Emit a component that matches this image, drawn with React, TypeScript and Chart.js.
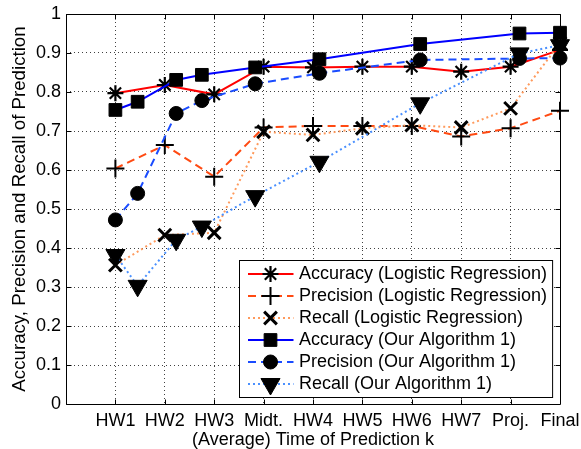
import React, { useEffect, useRef } from 'react';
import { Chart, registerables } from 'chart.js';
import { drawPoint } from 'chart.js/helpers';

Chart.register(...registerables);

// ---- data ----
const categories = ['HW1', 'HW2', 'HW3', 'Midt.', 'HW4', 'HW5', 'HW6', 'HW7', 'Proj.', 'Final'];
const lrTimes = [1, 2, 3, 4, 5, 6, 7, 8, 9, 10];
const lrAccuracy = [0.797, 0.818, 0.794, 0.865, 0.863, 0.865, 0.865, 0.852, 0.865, 0.908];
const lrPrecision = [0.604, 0.664, 0.583, 0.709, 0.713, 0.713, 0.713, 0.686, 0.707, 0.752];
const lrRecall = [0.356, 0.433, 0.439, 0.698, 0.69, 0.707, 0.715, 0.709, 0.758, 0.925];
const ourTimes = [1, 1.45, 2.23, 2.75, 3.83, 5.13, 7.17, 9.18, 10];
const ourAccuracy = [0.754, 0.775, 0.831, 0.844, 0.863, 0.884, 0.923, 0.95, 0.952];
const ourPrecision = [0.472, 0.54, 0.745, 0.778, 0.821, 0.848, 0.882, 0.886, 0.887];
const ourRecall = [0.382, 0.303, 0.421, 0.455, 0.533, 0.621, 0.771, 0.899, 0.92];
const seriesLabels = [
  'Accuracy (Logistic Regression)',
  'Precision (Logistic Regression)',
  'Recall (Logistic Regression)',
  'Accuracy (Our Algorithm 1)',
  'Precision (Our Algorithm 1)',
  'Recall (Our Algorithm 1)',
];
const yMin = 0;
const yMax = 1;
const yStep = 0.1;
const xMin = 0;
const xMax = 10;

const FONT = "'Liberation Sans', Arial, Helvetica, sans-serif";

type Style = {
  color: string;
  dash: number[];
  width: number;
  pointStyle: string;
  radius: number;
  pbw: number;
  rotation: number;
};

const styles: Style[] = [
  { color: '#ff0000', dash: [], width: 2, pointStyle: 'star', radius: 8, pbw: 2.2, rotation: 0 },
  { color: '#ff4a12', dash: [8, 5], width: 2, pointStyle: 'cross', radius: 9, pbw: 2, rotation: 0 },
  { color: '#ff9a5c', dash: [2, 3], width: 2, pointStyle: 'crossRot', radius: 9, pbw: 3, rotation: 0 },
  { color: '#0000ff', dash: [], width: 2, pointStyle: 'rect', radius: 9, pbw: 1, rotation: 0 },
  { color: '#1a4cff', dash: [8, 5], width: 2, pointStyle: 'circle', radius: 7, pbw: 1, rotation: 0 },
  { color: '#4a90ff', dash: [2, 3], width: 2, pointStyle: 'triangle', radius: 11, pbw: 1, rotation: 180 },
];

function makeDataset(i: number, xs: number[], ys: number[]) {
  const s = styles[i];
  return {
    label: seriesLabels[i],
    data: xs.map((x, k) => ({ x, y: ys[k] })),
    borderColor: s.color,
    backgroundColor: s.color,
    borderWidth: s.width,
    borderDash: s.dash,
    pointStyle: s.pointStyle,
    pointRadius: s.radius,
    pointHoverRadius: s.radius,
    pointBackgroundColor: '#000',
    pointBorderColor: '#000',
    pointBorderWidth: s.pbw,
    pointRotation: s.rotation,
    fill: false,
    tension: 0,
    clip: false,
    order: 10 - i,
  };
}

const boxPlugin = {
  id: 'matlabBox',
  beforeDatasetsDraw(chart: any) {
    const { ctx, chartArea } = chart;
    const xs = chart.scales.x;
    const ys = chart.scales.y;
    const L = Math.round(chartArea.left) + 0.5;
    const R = Math.round(chartArea.right) + 0.5;
    const T = Math.round(chartArea.top) + 0.5;
    const B = Math.round(chartArea.bottom) + 0.5;
    ctx.save();
    ctx.setLineDash([]);
    ctx.strokeStyle = '#000';
    ctx.lineWidth = 1;
    ctx.beginPath();
    ctx.rect(L, T, R - L, B - T);
    const tl = 5;
    for (let v = xMin + 1; v < xMax; v++) {
      const px = Math.round(xs.getPixelForValue(v)) + 0.5;
      ctx.moveTo(px, B);
      ctx.lineTo(px, B - tl);
      ctx.moveTo(px, T);
      ctx.lineTo(px, T + tl);
    }
    for (let k = 1; k < Math.round((yMax - yMin) / yStep); k++) {
      const py = Math.round(ys.getPixelForValue(yMin + k * yStep)) + 0.5;
      ctx.moveTo(L, py);
      ctx.lineTo(L + tl, py);
      ctx.moveTo(R, py);
      ctx.lineTo(R - tl, py);
    }
    ctx.stroke();
    ctx.restore();
  },
};

const legendPlugin = {
  id: 'matlabLegend',
  afterDraw(chart: any) {
    const { ctx, chartArea } = chart;
    ctx.save();
    ctx.font = `18px ${FONT}`;
    let maxW = 0;
    seriesLabels.forEach((t) => {
      maxW = Math.max(maxW, ctx.measureText(t).width);
    });
    const rowH = 22;
    const w = 60 + maxW + 5;
    const h = seriesLabels.length * rowH + 5;
    const x0 = Math.round(chartArea.right - 8 - w) + 0.5;
    const y0 = Math.round(chartArea.bottom - 7 - h) + 0.5;
    ctx.fillStyle = '#fff';
    ctx.fillRect(x0, y0, w, h);
    ctx.strokeStyle = '#000';
    ctx.lineWidth = 1;
    ctx.setLineDash([]);
    ctx.strokeRect(x0, y0, w, h);
    seriesLabels.forEach((t, i) => {
      const s = styles[i];
      const cy = y0 + 2.5 + rowH / 2 + i * rowH;
      ctx.save();
      ctx.strokeStyle = s.color;
      ctx.lineWidth = s.width;
      ctx.setLineDash(s.dash);
      ctx.beginPath();
      ctx.moveTo(x0 + 8.5, cy);
      ctx.lineTo(x0 + 54, cy);
      ctx.stroke();
      ctx.setLineDash([]);
      ctx.fillStyle = '#000';
      ctx.strokeStyle = '#000';
      ctx.lineWidth = s.pbw;
      drawPoint(ctx, { pointStyle: s.pointStyle as any, radius: s.radius, rotation: s.rotation, borderWidth: s.pbw }, x0 + 31, cy);
      ctx.restore();
      ctx.fillStyle = '#000';
      ctx.textAlign = 'left';
      ctx.textBaseline = 'middle';
      ctx.fillText(t, x0 + 59.5, cy);
    });
    ctx.restore();
  },
};

export default function App() {
  const ref = useRef<HTMLCanvasElement | null>(null);
  useEffect(() => {
    if (!ref.current) return;
    const chart = new Chart(ref.current, {
      type: 'line',
      data: {
        datasets: [
          makeDataset(0, lrTimes, lrAccuracy),
          makeDataset(1, lrTimes, lrPrecision),
          makeDataset(2, lrTimes, lrRecall),
          makeDataset(3, ourTimes, ourAccuracy),
          makeDataset(4, ourTimes, ourPrecision),
          makeDataset(5, ourTimes, ourRecall),
        ] as any,
      },
      options: {
        animation: false,
        responsive: false,
        events: [],
        layout: { padding: { top: 14, right: 21, left: 0, bottom: 0 } },
        plugins: { legend: { display: false }, tooltip: { enabled: false } },
        scales: {
          x: {
            type: 'linear',
            min: xMin,
            max: xMax,
            afterFit: (s: any) => {
              s.height = 45;
              s.paddingLeft = 0;
              s.paddingRight = 0;
            },
            ticks: {
              stepSize: 1,
              autoSkip: false,
              maxRotation: 0,
              padding: 6,
              color: '#000',
              font: { family: FONT, size: 18 },
              callback: (v: any) => {
                const n = Number(v);
                return Number.isInteger(n) && n >= 1 && n <= categories.length ? categories[n - 1] : '';
              },
            },
            grid: { color: 'rgba(0,0,0,0.75)', lineWidth: 1, drawTicks: false },
            border: { display: false, dash: [1, 3] },
            title: {
              display: true,
              text: '(Average) Time of Prediction k',
              color: '#000',
              font: { family: FONT, size: 18, lineHeight: 1 },
              padding: { top: 0, bottom: 0 },
            },
          },
          y: {
            type: 'linear',
            min: yMin,
            max: yMax,
            afterFit: (s: any) => {
              s.width = 66;
              s.paddingTop = 0;
              s.paddingBottom = 0;
            },
            ticks: {
              stepSize: yStep,
              autoSkip: false,
              padding: 5,
              color: '#000',
              font: { family: FONT, size: 18 },
              callback: (v: any) => String(Number(Number(v).toFixed(1))),
            },
            grid: { color: 'rgba(0,0,0,0.75)', lineWidth: 1, drawTicks: false },
            border: { display: false, dash: [1, 3] },
            title: {
              display: true,
              text: 'Accuracy, Precision and Recall of Prediction',
              color: '#000',
              font: { family: FONT, size: 18.7, lineHeight: 1 },
              padding: { top: 11, bottom: 0 },
            },
          },
        },
      } as any,
      plugins: [boxPlugin, legendPlugin],
    });
    return () => chart.destroy();
  }, []);
  return (
    <div style={{ position: 'fixed', left: 0, top: 0, width: 581, height: 449, background: '#fff' }}>
      <canvas ref={ref} width={581} height={449} />
    </div>
  );
}
